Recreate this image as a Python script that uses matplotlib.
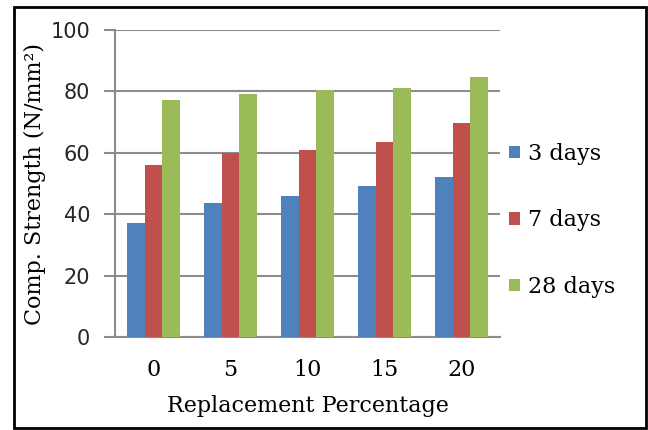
import matplotlib
matplotlib.use('Agg')
import matplotlib.pyplot as plt
import numpy as np
from matplotlib.patches import Rectangle

# compressive strength per replacement level
categories = ['0', '5', '10', '15', '20']
days_3 = [37.0, 43.7, 45.9, 49.2, 52.0]
days_7 = [56.0, 60.0, 60.8, 63.5, 69.6]
days_28 = [77.2, 79.1, 80.4, 81.2, 84.6]
series_names = ['3 days', '7 days', '28 days']
series_colors = ['#4F81BD', '#C0504D', '#9BBB59']

serif = ['DejaVu Serif']
sans = ['DejaVu Sans']

fig = plt.figure(figsize=(6.48, 4.30), dpi=100)
ax = fig.add_axes([0.1775, 0.2163, 0.5941, 0.7139])

x = np.arange(len(categories))
width = 0.227
for i, (vals, name, col) in enumerate(zip([days_3, days_7, days_28], series_names, series_colors)):
    ax.bar(x + (i - 1) * width, vals, width, color=col, label=name, zorder=3)

ax.set_xlim(-0.5, len(categories) - 0.5)
ax.set_ylim(0, 100)
ax.set_yticks(np.arange(0, 101, 20))
ax.yaxis.grid(True, color='#8c8c8c', linewidth=1.5, zorder=0)
for side in ['top', 'right']:
    ax.spines[side].set_visible(False)
ax.spines['left'].set_color('#8c8c8c')
ax.spines['left'].set_linewidth(1.5)
ax.spines['bottom'].set_color('#8c8c8c')
ax.spines['bottom'].set_linewidth(1.5)

ax.tick_params(axis='y', length=8, width=1.5, color='#8c8c8c', pad=10)
ax.tick_params(axis='x', length=0, pad=16)
ax.set_xticks(x)
ax.set_xticklabels(categories, family=serif, fontsize=16)
for lbl in ax.get_yticklabels():
    lbl.set_family(sans)
    lbl.set_fontsize(15)
    lbl.set_color('#262626')

ax.set_xlabel('Replacement Percentage', family=serif, fontsize=16, labelpad=10)
ax.set_ylabel('Comp. Strength (N/mm\u00b2)', family=serif, fontsize=16, labelpad=3)

leg = ax.legend(loc='center left', bbox_to_anchor=(1.0, 0.38), frameon=False,
                prop={'family': serif, 'size': 16}, labelspacing=2.0,
                handlelength=0.5, handleheight=0.5, handletextpad=0.35,
                borderaxespad=0.0)

# outer frame around the whole chart
fig.patches.append(Rectangle((0.0216, 0.0047), 0.9754, 0.979, transform=fig.transFigure,
                             fill=False, edgecolor='black', linewidth=2))

fig.savefig('out.png', dpi=100)
